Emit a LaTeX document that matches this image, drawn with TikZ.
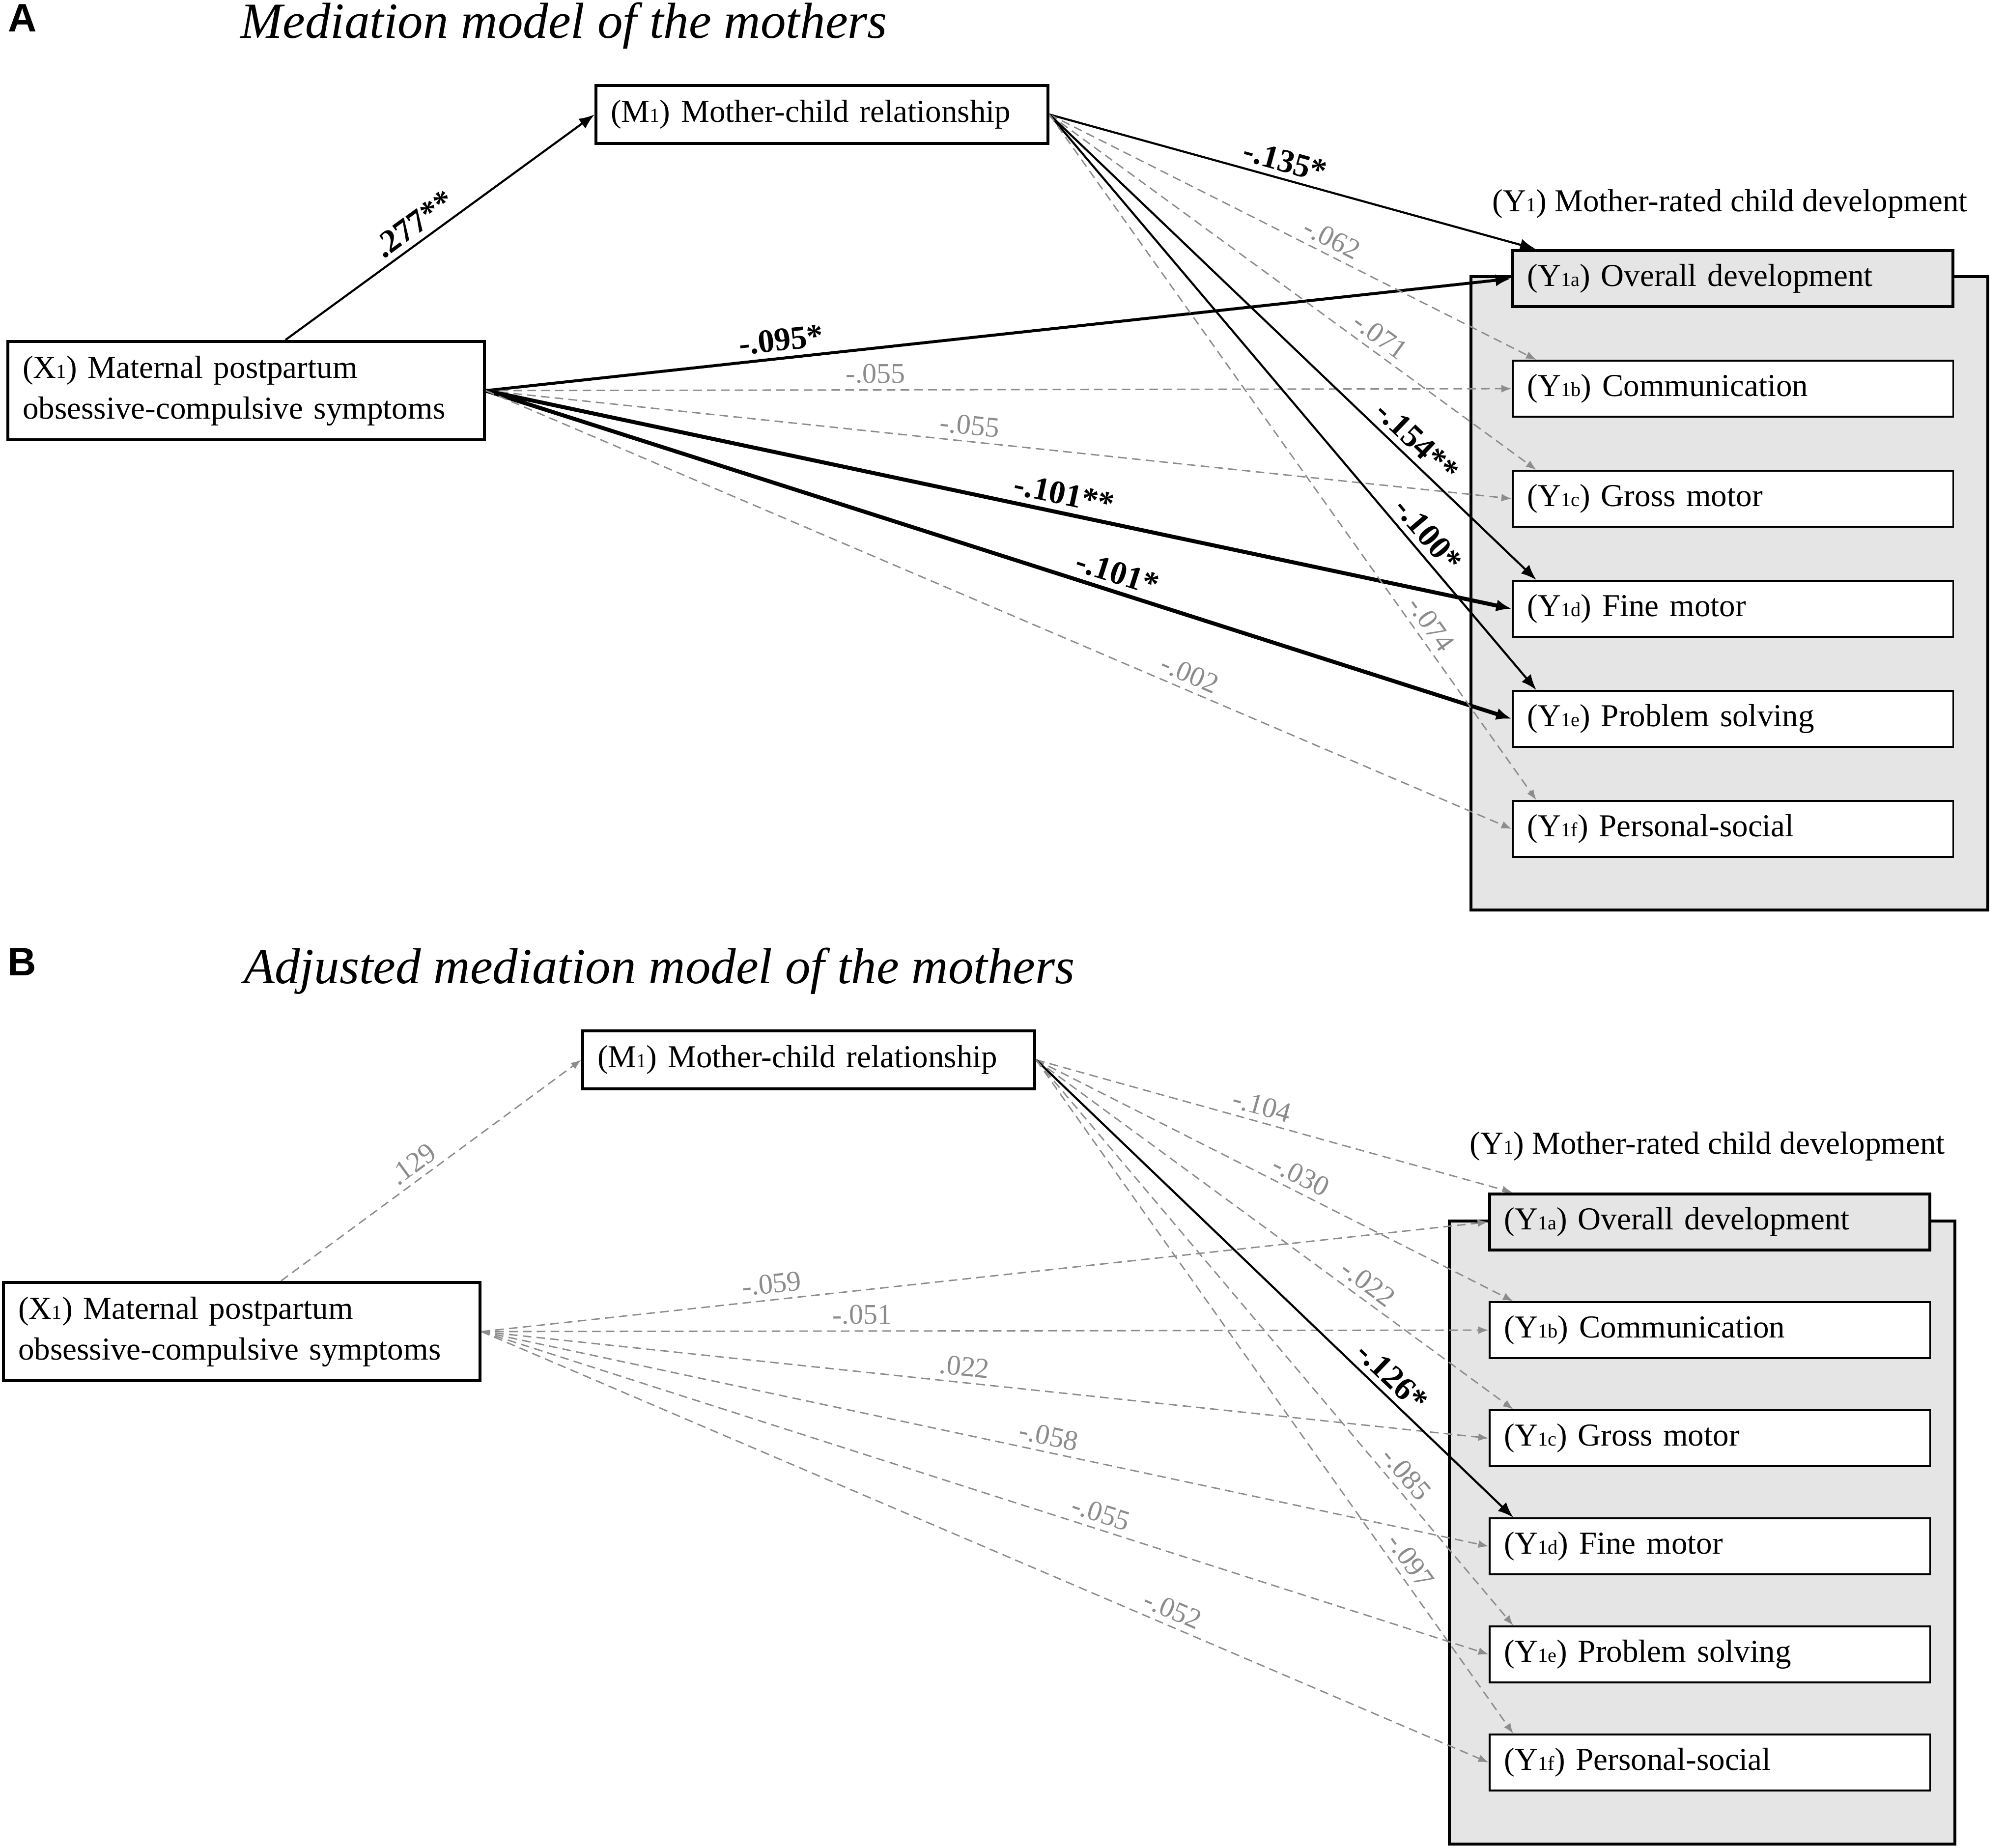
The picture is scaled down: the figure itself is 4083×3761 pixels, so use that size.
\documentclass[tikz,border=0pt]{standalone}
\usepackage{fontspec}
\setmainfont{Liberation Serif}
\setsansfont{Liberation Sans}
\usetikzlibrary{arrows.meta}

\definecolor{boxgray}{gray}{0.9}
\definecolor{lgray}{gray}{0.55}

\newcommand{\ix}[1]{{\fontsize{11.5}{11.5}\selectfont #1}}
\newcommand{\boxfont}{\fontsize{18.5}{23.6}\selectfont}
\newcommand{\labfont}{\fontsize{16.5}{18}\selectfont}

\begin{document}
\begin{tikzpicture}[x=0.01cm, y=-0.01cm,
    box/.style={draw, line width=1.8pt, fill=white, inner xsep=0.3cm, inner ysep=0pt, align=left, font=\boxfont},
    ybox/.style={box, line width=1pt, text width=8.36cm, minimum height=1.14cm},
    panel/.style={font=\sffamily\bfseries\fontsize{23}{24}\selectfont},
    title/.style={font=\itshape\fontsize{29.3}{32}\selectfont, anchor=base west},
    ylab/.style={font=\boxfont, anchor=base west},
    sig/.style={line width=1.2pt, -{Latex[length=9pt,width=7pt]}},
    ns/.style={lgray, line width=0.8pt, dash pattern=on 5pt off 3pt, -{Latex[length=6pt,width=4.5pt]}},
    wlab/.style={sloped, above, font=\fontsize{19}{20}\selectfont\bfseries, text=black},
    glab/.style={sloped, above, font=\labfont, text=lgray}]

  \useasboundingbox (0,0) rectangle (4083,3761);

  % panel A
  \node[panel] (pA) at (46,37) {A};
  \node[title] (tA) at (477,78) {Mediation model of the mothers};
  \draw[line width=1.8pt, fill=boxgray] (2994,563) rectangle (4046,1852);
  \node[ylab] (lA) at (3025,431) {(Y\ix{1}) Mother-rated child development};

  \node[box, text width=8.59cm, minimum height=1.18cm] (mA) at (1673,233) {(M\ix{1}) Mother-child relationship};
  \node[box, text width=9.09cm, minimum height=2cm] (xA) at (501,795) {(X\ix{1}) Maternal postpartum\\obsessive-compulsive symptoms};

  \begin{scope}[every node/.style={ybox}]
    \node[fill=boxgray, line width=1.8pt] (yaA) at (3527,567) {(Y\ix{1a}) Overall development};
    \node (ybA) at (3527,791)  {(Y\ix{1b}) Communication};
    \node (ycA) at (3527,1015) {(Y\ix{1c}) Gross motor};
    \node (ydA) at (3527,1239) {(Y\ix{1d}) Fine motor};
    \node (yeA) at (3527,1463) {(Y\ix{1e}) Problem solving};
    \node (yfA) at (3527,1687) {(Y\ix{1f}) Personal-social};
  \end{scope}

  \path ([xshift=0.8cm]xA.north) edge[sig] node[wlab, pos=.45] {.277**} (mA.west);

  \path (xA.east) edge[sig, line width=1.7pt] node[wlab, pos=.29] {-.095*} (yaA.west)
        (xA.east) edge[ns] node[glab, pos=.38] {-.055} (ybA.west)
        (xA.east) edge[ns] node[glab, pos=.47] {-.055} (ycA.west)
        (xA.east) edge[sig, line width=2.3pt] node[wlab, pos=.56] {-.101**} (ydA.west)
        (xA.east) edge[sig, line width=2.3pt] node[wlab, pos=.61] {-.101*} (yeA.west)
        (xA.east) edge[ns] node[glab, pos=.68] {-.002} (yfA.west);

  \path (mA.east) edge[sig] node[wlab, pos=.475] {-.135*} ([xshift=0.5cm]yaA.north west)
        (mA.east) edge[ns] node[glab, pos=.565] {-.062} ([xshift=0.5cm]ybA.north west)
        (mA.east) edge[ns] node[glab, pos=.66] {-.071} ([xshift=0.5cm]ycA.north west)
        (mA.east) edge[sig] node[wlab, pos=.73] {-.154**} ([xshift=0.5cm]ydA.north west)
        (mA.east) edge[sig] node[wlab, pos=.75] {-.100*} ([xshift=0.5cm]yeA.north west)
        (mA.east) edge[ns] node[glab, pos=.757] {-.074} ([xshift=0.5cm]yfA.north west);

  % panel B
  \node[panel] (pB) at (45,1958) {B};
  \node[title] (tB) at (484,2001) {Adjusted mediation model of the mothers};
  \draw[line width=1.8pt, fill=boxgray] (2950,2485) rectangle (3979,3753);
  \node[ylab] (lB) at (2979,2348) {(Y\ix{1}) Mother-rated child development};

  \node[box, text width=8.59cm, minimum height=1.18cm] (mB) at (1646,2157) {(M\ix{1}) Mother-child relationship};
  \node[box, text width=9.09cm, minimum height=2cm] (xB) at (492,2710) {(X\ix{1}) Maternal postpartum\\obsessive-compulsive symptoms};

  \begin{scope}[every node/.style={ybox}]
    \node[fill=boxgray, line width=1.8pt] (yaB) at (3480,2487) {(Y\ix{1a}) Overall development};
    \node (ybB) at (3480,2707) {(Y\ix{1b}) Communication};
    \node (ycB) at (3480,2927) {(Y\ix{1c}) Gross motor};
    \node (ydB) at (3480,3147) {(Y\ix{1d}) Fine motor};
    \node (yeB) at (3480,3367) {(Y\ix{1e}) Problem solving};
    \node (yfB) at (3480,3587) {(Y\ix{1f}) Personal-social};
  \end{scope}

  \path ([xshift=0.8cm]xB.north) edge[ns] node[glab, pos=.47] {.129} (mB.west);

  \path (xB.east) edge[ns] node[glab, pos=.29] {-.059} (yaB.west)
        (xB.east) edge[ns] node[glab, pos=.378] {-.051} (ybB.west)
        (xB.east) edge[ns] node[glab, pos=.478] {.022} (ycB.west)
        (xB.east) edge[ns] node[glab, pos=.56] {-.058} (ydB.west)
        (xB.east) edge[ns] node[glab, pos=.61] {-.055} (yeB.west)
        (xB.east) edge[ns] node[glab, pos=.68] {-.052} (yfB.west);

  \path (mB.east) edge[ns] node[glab, pos=.465] {-.104} ([xshift=0.5cm]yaB.north west)
        (mB.east) edge[ns] node[glab, pos=.54] {-.030} ([xshift=0.5cm]ybB.north west)
        (mB.east) edge[ns] node[glab, pos=.676] {-.022} ([xshift=0.5cm]ycB.north west)
        (mB.east) edge[sig] node[wlab, pos=.72] {-.126*} ([xshift=0.5cm]ydB.north west)
        (mB.east) edge[ns] node[glab, pos=.75] {-.085} ([xshift=0.5cm]yeB.north west)
        (mB.east) edge[ns] node[glab, pos=.757] {-.097} ([xshift=0.5cm]yfB.north west);

\end{tikzpicture}
\end{document}
